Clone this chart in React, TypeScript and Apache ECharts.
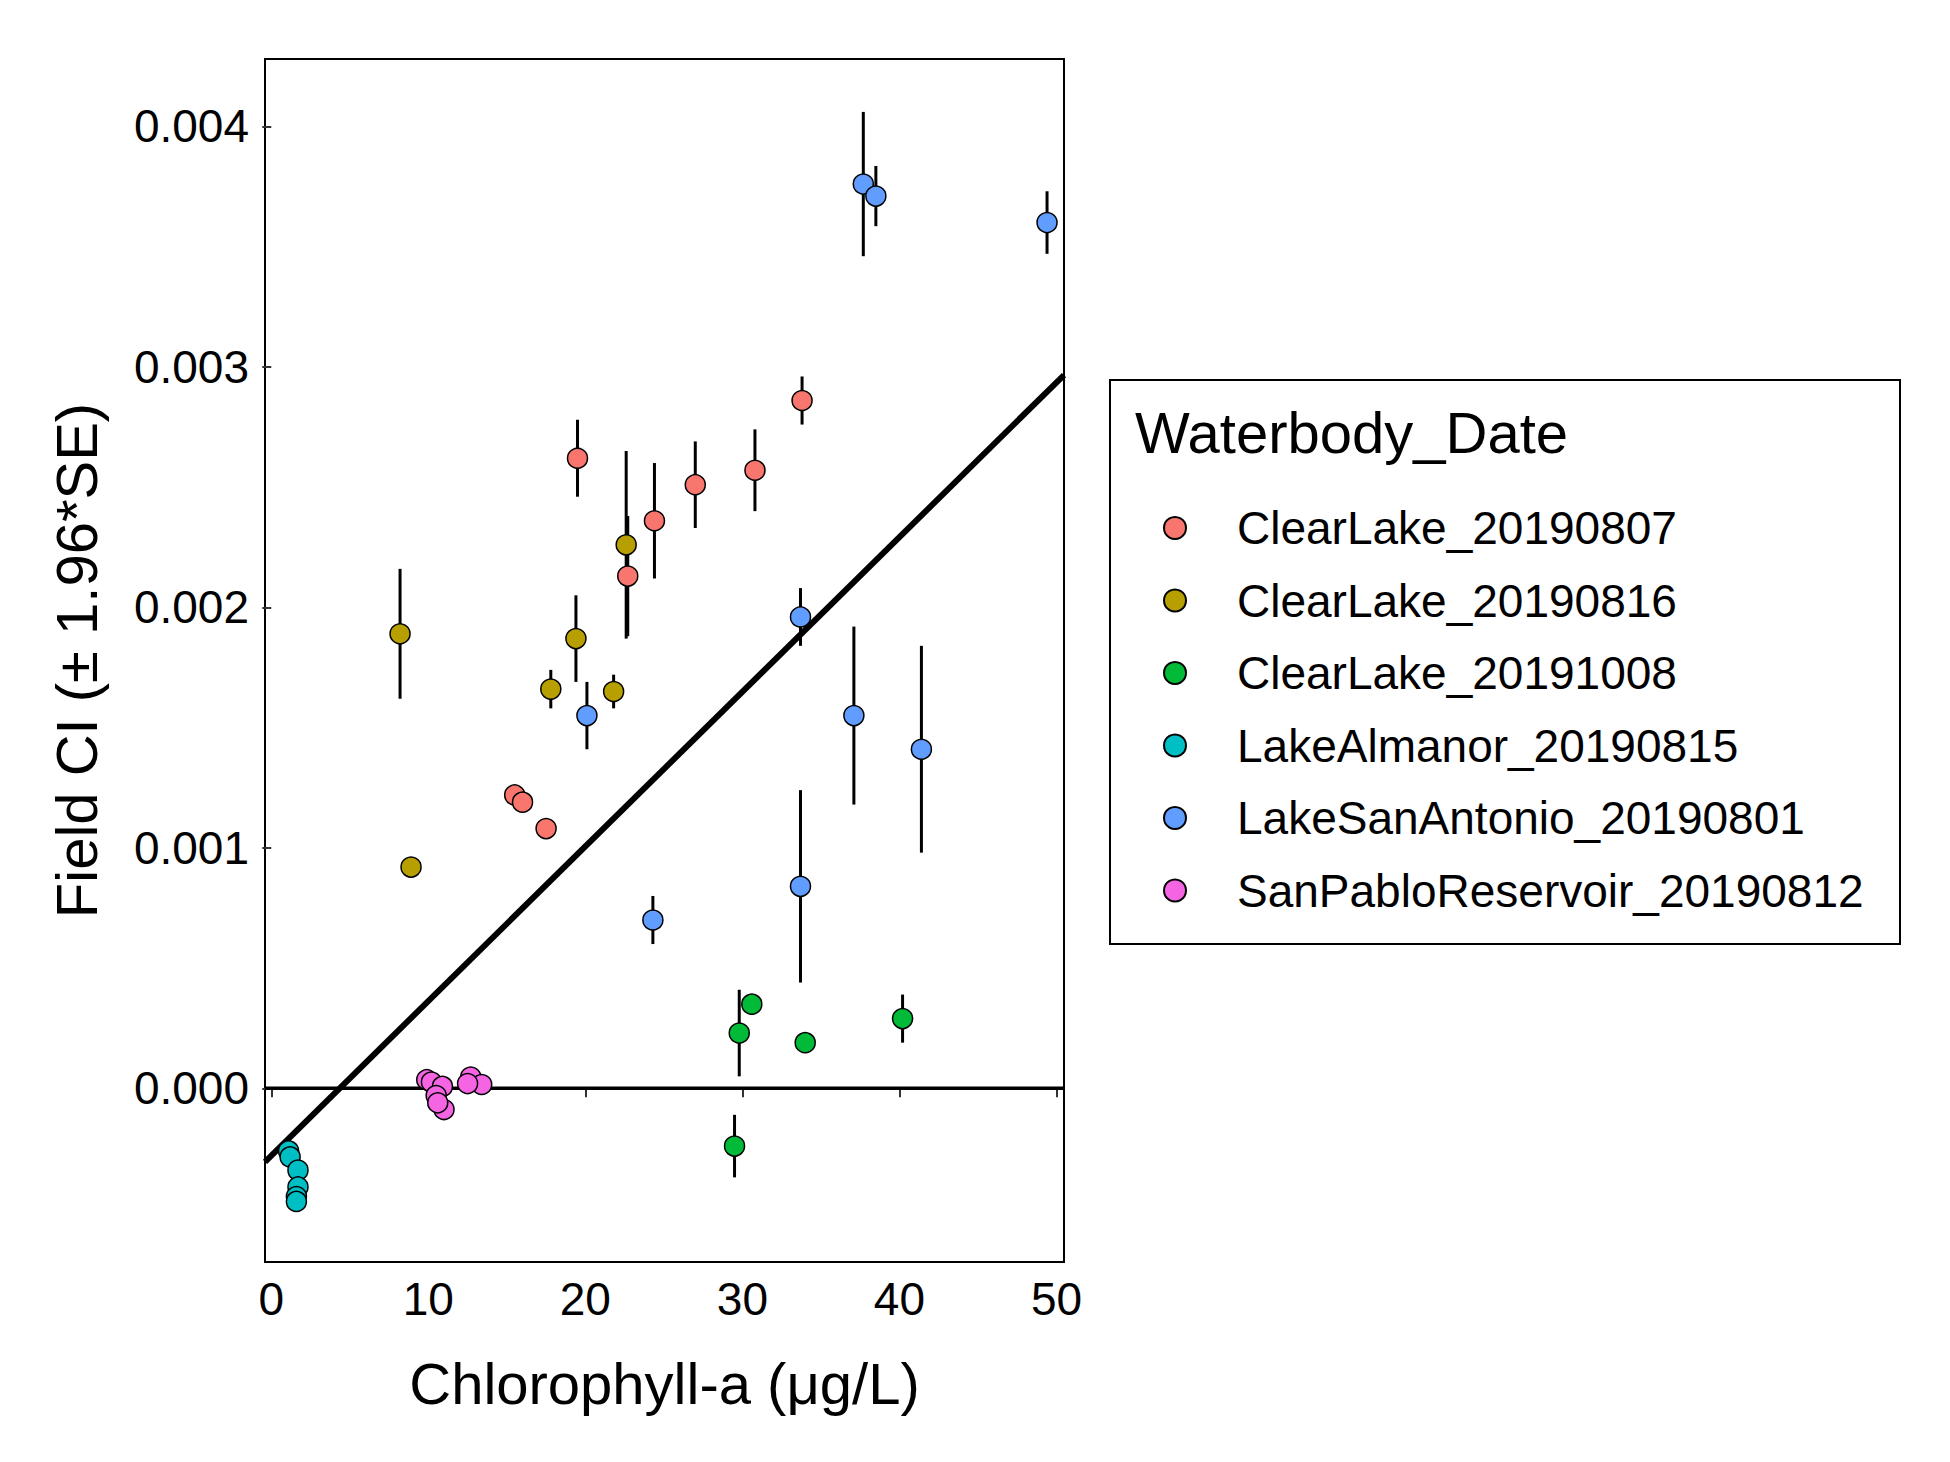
import { useEffect, useRef } from 'react';
import * as echarts from 'echarts';

// [chl-a, field CI, 1.96*SE]
const clearLake0807 = [
  [19.5, 0.00262, 0.00016], [24.4, 0.00236, 0.00024], [22.7, 0.00213, 0.00025],
  [27.0, 0.00251, 0.00018], [30.8, 0.00257, 0.00017], [33.8, 0.00286, 0.0001],
  [15.5, 0.00122, 0.00003], [16.0, 0.00119, 0.00002], [17.5, 0.00108, 0.00001],
];
const clearLake0816 = [
  [8.2, 0.00189, 0.00027], [8.9, 0.00092, 0.00001], [19.4, 0.00187, 0.00018],
  [17.8, 0.00166, 0.00008], [21.8, 0.00165, 0.00007], [22.6, 0.00226, 0.00039],
];
const clearLake1008 = [
  [29.8, 0.00023, 0.00018], [30.6, 0.00035, 0.00002], [34.0, 0.00019, 0.00001],
  [40.2, 0.00029, 0.0001], [29.5, -0.00024, 0.00013],
];
const lakeAlmanor = [
  [1.1, -0.00026, 0.00002], [1.2, -0.000285, 0.00002], [1.7, -0.00034, 0.00002],
  [1.7, -0.00041, 0.00002], [1.6, -0.00045, 0.00002], [1.6, -0.00047, 0.00002],
];
const lakeSanAntonio = [
  [37.7, 0.00376, 0.0003], [38.5, 0.00371, 0.000125], [49.4, 0.0036, 0.00013],
  [33.7, 0.00196, 0.00012], [20.1, 0.00155, 0.00014], [37.1, 0.00155, 0.00037],
  [41.4, 0.00141, 0.00043], [33.7, 0.00084, 0.0004], [24.3, 0.0007, 0.0001],
];
const sanPablo = [
  [9.9, 0.000036, 0.00001], [10.2, 0.000026, 0.00001], [10.9, 0.000008, 0.00003],
  [10.5, -0.00003, 0.00001], [11.0, -0.000088, 0.00001], [10.6, -0.00006, 0.00001],
  [12.7, 0.000047, 0.00001], [13.4, 0.000016, 0.00001], [12.5, 0.00002, 0.00001],
];

const groups = [
  { name: 'ClearLake_20190807', color: '#F8766D', data: clearLake0807 },
  { name: 'ClearLake_20190816', color: '#B79F00', data: clearLake0816 },
  { name: 'ClearLake_20191008', color: '#00BA38', data: clearLake1008 },
  { name: 'LakeAlmanor_20190815', color: '#00BFC4', data: lakeAlmanor },
  { name: 'LakeSanAntonio_20190801', color: '#619CFF', data: lakeSanAntonio },
  { name: 'SanPabloReservoir_20190812', color: '#F564E3', data: sanPablo },
];

const xTicks = [0, 10, 20, 30, 40, 50];
const yTicks = [0, 0.001, 0.002, 0.003, 0.004];
const xRange = [-0.4, 50.48];
const yRange = [-0.000722, 0.00428];
const fitIntercept = -0.00028;
const fitSlope = 0.0000643;

const font = '"Liberation Sans", Arial, sans-serif';

export default function App() {
  const ref = useRef<HTMLDivElement>(null);

  useEffect(() => {
    if (!ref.current) return;
    const chart = echarts.init(ref.current, null, { renderer: 'svg' });

    const allErr = groups.flatMap((g) => g.data);
    const fitLine = xRange.map((x) => [x, fitIntercept + fitSlope * x]);

    const axisCommon = {
      axisLine: { show: false },
      splitLine: { show: false },
      axisTick: { show: true, length: 9, lineStyle: { color: '#333', width: 2 } },
    };

    chart.setOption({
      animation: false,
      backgroundColor: '#fff',
      grid: {
        left: 265, top: 59, width: 799, height: 1203,
        show: true, borderColor: '#000', borderWidth: 2,
      },
      xAxis: {
        type: 'value', min: xRange[0], max: xRange[1],
        ...axisCommon,
        axisTick: { ...axisCommon.axisTick, customValues: xTicks },
        axisLabel: { customValues: xTicks, color: '#000', fontSize: 46, fontFamily: font, margin: 14 },
        name: 'Chlorophyll-a (μg/L)', nameLocation: 'middle', nameGap: 92,
        nameTextStyle: { fontSize: 58, fontFamily: font, color: '#000' },
      },
      yAxis: {
        type: 'value', min: yRange[0], max: yRange[1],
        ...axisCommon,
        axisTick: { ...axisCommon.axisTick, customValues: yTicks },
        axisLabel: {
          customValues: yTicks, color: '#000', fontSize: 46, fontFamily: font, margin: 16,
          formatter: (v: number) => v.toFixed(3),
        },
        name: 'Field CI (± 1.96*SE)', nameLocation: 'middle', nameGap: 160,
        nameTextStyle: { fontSize: 58, fontFamily: font, color: '#000' },
      },
      legend: {
        orient: 'vertical', left: 1158, top: 498, itemGap: 22.5,
        itemWidth: 22, itemHeight: 22, icon: 'circle',
        data: groups.map((g) => g.name),
        textStyle: { fontSize: 46, fontFamily: font, color: '#000', lineHeight: 50, padding: [0, 0, 0, 46] },
      },
      graphic: [
        { type: 'rect', shape: { x: 1110, y: 380, width: 790, height: 564 }, style: { fill: 'none', stroke: '#000', lineWidth: 2 } },
        { type: 'text', x: 1135, y: 432, style: { text: 'Waterbody_Date', fontSize: 58, fontFamily: font, fill: '#000', verticalAlign: 'middle' } },
      ],
      series: [
        {
          type: 'line', data: xRange.map((x) => [x, 0]), symbol: 'none', silent: true,
          lineStyle: { color: '#000', width: 3.5 }, z: 1,
        },
        {
          type: 'custom', silent: true, z: 2,
          data: allErr.map((d) => [d[0], d[1] - d[2], d[1] + d[2]]),
          renderItem: (_p: any, api: any) => {
            const a = api.coord([api.value(0), api.value(1)]);
            const b = api.coord([api.value(0), api.value(2)]);
            return { type: 'line', shape: { x1: a[0], y1: a[1], x2: b[0], y2: b[1] }, style: { stroke: '#000', lineWidth: 3 } };
          },
        },
        {
          type: 'line', data: fitLine, symbol: 'none', silent: true, clip: true,
          lineStyle: { color: '#000', width: 6 }, z: 3,
        },
        ...groups.map((g) => ({
          name: g.name, type: 'scatter', z: 4,
          data: g.data.map((d) => [d[0], d[1]]),
          symbolSize: 20,
          itemStyle: { color: g.color, borderColor: '#000', borderWidth: 1.5, opacity: 1 },
        })),
      ],
    });

    return () => chart.dispose();
  }, []);

  return <div ref={ref} style={{ position: 'absolute', left: 0, top: 0, width: 1950, height: 1462 }} />;
}
